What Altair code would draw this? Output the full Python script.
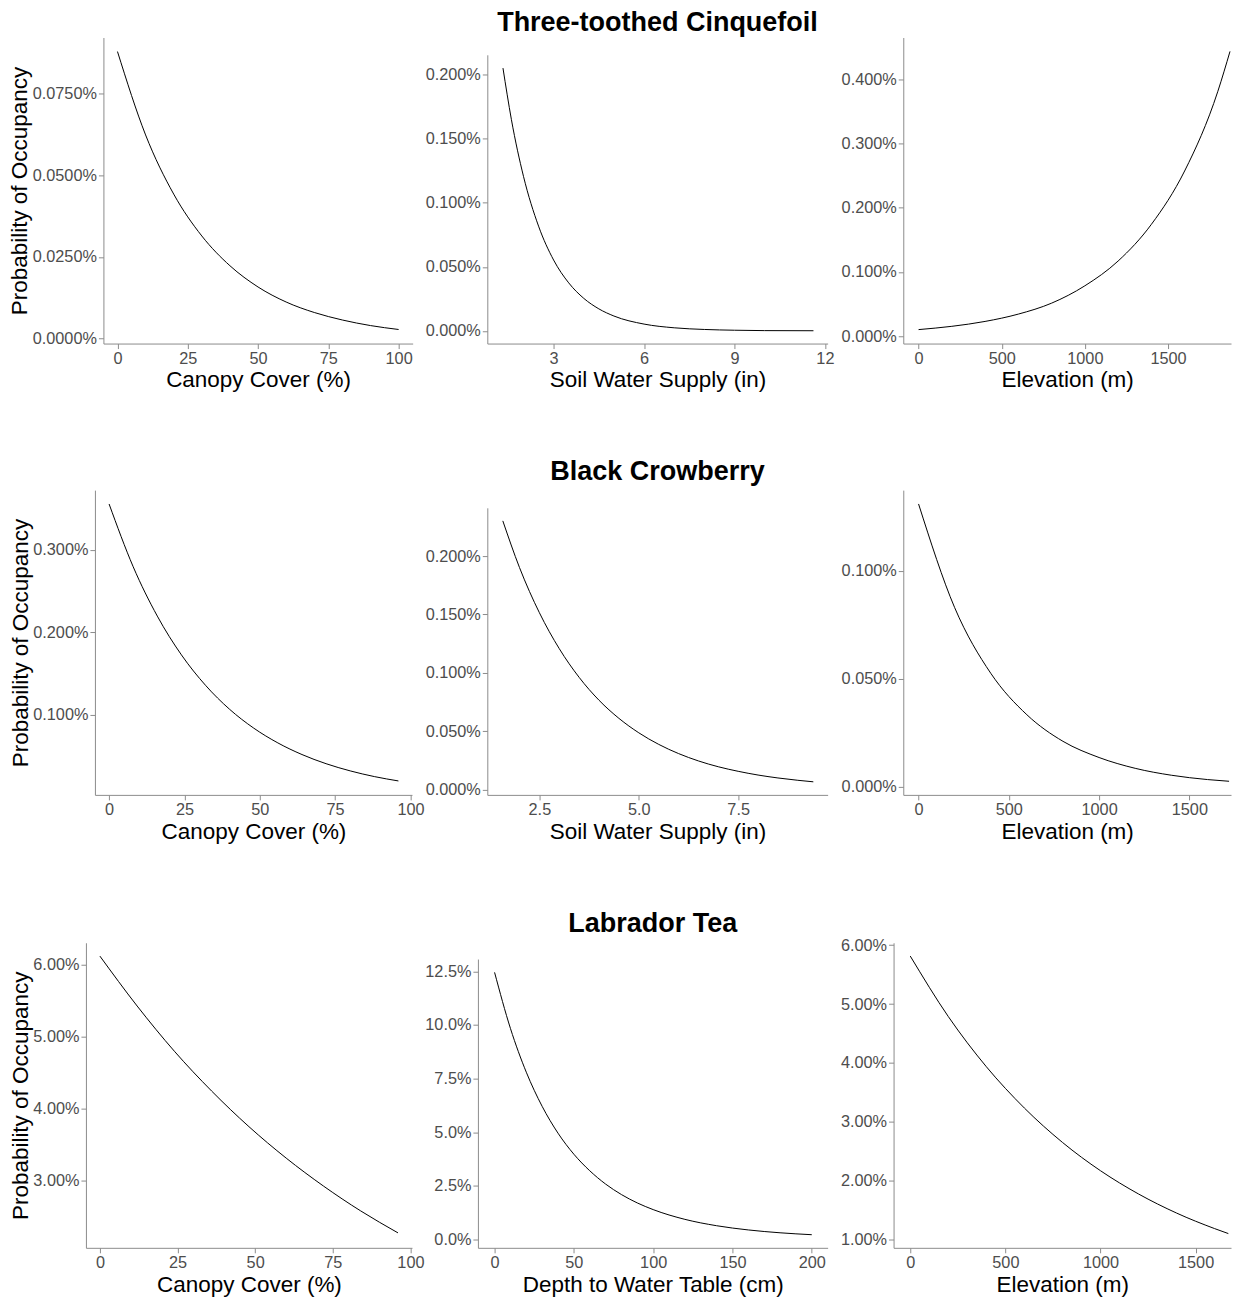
import altair as alt
import pandas as pd

FONT = "Liberation Sans"
AXIS_GREY = "#8c8c8c"

# ---------------- data (probability of occupancy, in percent) ----------------
row_titles = ["Three-toothed Cinquefoil", "Black Crowberry", "Labrador Tea"]
y_title = "Probability of Occupancy"

# Three-toothed Cinquefoil
cinq_canopy_x = [0, 10, 20, 30, 40, 50, 60, 70, 80, 90, 100]
cinq_canopy_y = [0.0878, 0.0623, 0.0442, 0.0314, 0.0223, 0.0158, 0.0112, 0.0080, 0.0057, 0.0040, 0.0028]
cinq_soil_x = [1.32, 1.6, 2.0, 2.5, 3.0, 3.5, 4.0, 4.5, 5.0, 6.0, 7.0, 8.0, 9.0, 10.0, 11.62]
cinq_soil_y = [0.2052, 0.1649, 0.1207, 0.0818, 0.0553, 0.0375, 0.0254, 0.0172, 0.0116, 0.0053,
               0.0024, 0.0011, 0.0005, 0.0002, 0.0001]
cinq_elev_x = [0, 200, 400, 600, 800, 1000, 1200, 1400, 1600, 1800, 1873]
cinq_elev_y = [0.0104, 0.0155, 0.0231, 0.0345, 0.0515, 0.0785, 0.1170, 0.1740, 0.2570, 0.3810, 0.4430]

# Black Crowberry
crow_canopy_x = [0, 8, 16, 24, 32, 40, 48, 56, 64, 72, 80, 88, 96]
crow_canopy_y = [0.3555, 0.2794, 0.2196, 0.1726, 0.1357, 0.1066, 0.0838, 0.0659, 0.0518, 0.0407,
                 0.0320, 0.0251, 0.0198]
crow_soil_x = [1.58, 2.0, 2.5, 3.0, 3.5, 4.0, 4.5, 5.0, 5.5, 6.0, 6.5, 7.0, 7.5, 8.0, 8.5, 9.0, 9.39]
crow_soil_y = [0.2302, 0.1902, 0.1515, 0.1207, 0.0961, 0.0765, 0.0610, 0.0486, 0.0387, 0.0308,
               0.0245, 0.0195, 0.0156, 0.0124, 0.0099, 0.0079, 0.0066]
crow_elev_x = [0, 200, 400, 600, 800, 1000, 1200, 1400, 1600, 1720]
crow_elev_y = [0.1310, 0.0830, 0.0526, 0.0334, 0.0211, 0.0136, 0.0086, 0.0054, 0.0034, 0.0026]

# Labrador Tea
lab_canopy_x = [0, 12, 24, 36, 48, 60, 72, 84, 96]
lab_canopy_y = [6.115, 5.423, 4.796, 4.244, 3.751, 3.315, 2.928, 2.583, 2.279]
lab_depth_x = [0, 10, 20, 30, 40, 50, 60, 70, 80, 90, 100, 120, 140, 160, 180, 200]
lab_depth_y = [12.45, 9.84, 7.80, 6.21, 4.96, 3.98, 3.21, 2.59, 2.10, 1.71, 1.40, 0.946,
               0.649, 0.452, 0.320, 0.23]
lab_elev_x = [0, 200, 400, 600, 800, 1000, 1200, 1400, 1600, 1672]
lab_elev_y = [5.814, 4.787, 3.935, 3.233, 2.650, 2.169, 1.774, 1.450, 1.186, 1.102]

# axis tick values
canopy_ticks = [0, 25, 50, 75, 100]
elev_ticks = [0, 500, 1000, 1500]

# ---------------- panel definitions ----------------
panels = [
    # row 1
    dict(x=cinq_canopy_x, y=cinq_canopy_y, xt="Canopy Cover (%)", yt=y_title,
         xdom=[-5, 105], ydom=[-0.0015, 0.0921], xticks=canopy_ticks, xfmt="d",
         yticks=[0, 0.025, 0.05, 0.075], yfmt=".4f"),
    dict(x=cinq_soil_x, y=cinq_soil_y, xt="Soil Water Supply (in)", yt=None,
         xdom=[0.80, 12.09], ydom=[-0.0099, 0.2156], xticks=[3, 6, 9, 12], xfmt="d",
         yticks=[0, 0.05, 0.1, 0.15, 0.2], yfmt=".3f", title=row_titles[0]),
    dict(x=cinq_elev_x, y=cinq_elev_y, xt="Elevation (m)", yt=None,
         xdom=[-92, 1879], ydom=[-0.0113, 0.4646], xticks=elev_ticks, xfmt="d",
         yticks=[0, 0.1, 0.2, 0.3, 0.4], yfmt=".3f"),
    # row 2
    dict(x=crow_canopy_x, y=crow_canopy_y, xt="Canopy Cover (%)", yt=y_title,
         xdom=[-4.7, 100.5], ydom=[0.0029, 0.3723], xticks=canopy_ticks, xfmt="d",
         yticks=[0.1, 0.2, 0.3], yfmt=".3f"),
    dict(x=crow_soil_x, y=crow_soil_y, xt="Soil Water Supply (in)", yt=None,
         xdom=[1.19, 9.75], ydom=[-0.0046, 0.2414], xticks=[2.5, 5.0, 7.5], xfmt=".1f",
         yticks=[0, 0.05, 0.1, 0.15, 0.2], yfmt=".3f", title=row_titles[1]),
    dict(x=crow_elev_x, y=crow_elev_y, xt="Elevation (m)", yt=None,
         xdom=[-84.7, 1730.7], ydom=[-0.0037, 0.1374], xticks=elev_ticks, xfmt="d",
         yticks=[0, 0.05, 0.1], yfmt=".3f"),
    # row 3
    dict(x=lab_canopy_x, y=lab_canopy_y, xt="Canopy Cover (%)", yt=y_title,
         xdom=[-4.5, 100.5], ydom=[2.072, 6.30], xticks=canopy_ticks, xfmt="d",
         yticks=[3, 4, 5, 6], yfmt=".2f"),
    dict(x=lab_depth_x, y=lab_depth_y, xt="Depth to Water Table (cm)", yt=None,
         xdom=[-10.5, 210], ydom=[-0.38, 13.07], xticks=[0, 50, 100, 150, 200], xfmt="d",
         yticks=[0, 2.5, 5, 7.5, 10, 12.5], yfmt=".1f", title=row_titles[2]),
    dict(x=lab_elev_x, y=lab_elev_y, xt="Elevation (m)", yt=None,
         xdom=[-87.7, 1686], ydom=[0.86, 6.04], xticks=elev_ticks, xfmt="d",
         yticks=[1, 2, 3, 4, 5, 6], yfmt=".2f"),
]

# ---------------- layout (cell sizes and plot ranges inside cells) ----------------
col_w = [327, 416, 403]
row_h = [453, 453, 306]
x_ranges = [
    [17.5, 327], [74.7, 415.3], [75, 403],
    [9, 326.3], [74.7, 415.3], [75, 403],
    [0, 326.3], [65.3, 415.3], [65.3, 403],
]
plot_bottom = [306.3, 305, 305.3]
plot_top = [[0, 17.3, 0], [0, 17.7, 0], [0, 16.3, 0]]
title_offset = [-20.5, -16.5, -16.5]


def make_panel(i, p):
    r, c = divmod(i, 3)
    cw, ch = col_w[c], row_h[r]
    xr = x_ranges[i]
    yr = [plot_bottom[r], plot_top[r][c]]
    df = pd.DataFrame({"x": p["x"], "y": p["y"]})
    yaxis_kw = dict(values=p["yticks"],
                    labelExpr="format(datum.value, '%s') + '%%'" % p["yfmt"],
                    offset=-xr[0])
    yaxis_kw["title"] = p["yt"] if p["yt"] else None
    ch_obj = alt.Chart(df).mark_line(color="black", strokeWidth=1, interpolate="monotone").encode(
        x=alt.X("x:Q",
                scale=alt.Scale(domain=p["xdom"], range=xr, nice=False, zero=False),
                axis=alt.Axis(values=p["xticks"], format=p["xfmt"], title=p["xt"],
                              offset=-(ch - yr[0]))),
        y=alt.Y("y:Q",
                scale=alt.Scale(domain=p["ydom"], range=yr, nice=False, zero=False),
                axis=alt.Axis(**yaxis_kw)),
    )
    props = dict(width=cw, height=ch)
    if p.get("title"):
        props["title"] = alt.TitleParams(
            text=p["title"], font=FONT, fontSize=27, fontWeight="bold", color="black",
            anchor="middle", frame="group", baseline="alphabetic",
            offset=title_offset[r], dx=(xr[0] + xr[1]) / 2 - cw / 2)
    return ch_obj.properties(**props)


charts = [make_panel(i, p) for i, p in enumerate(panels)]

chart = alt.concat(*charts, columns=3, spacing=0, bounds="flush").properties(
    padding={"left": 0, "top": 0, "right": 0, "bottom": 0}
).configure_view(
    stroke=None
).configure_axis(
    grid=False, domainColor=AXIS_GREY, tickColor=AXIS_GREY, domainWidth=1, tickWidth=1,
    tickSize=5, labelPadding=2, labelFont=FONT, labelFontSize=16.3, labelColor="#4d4d4d",
    titleFont=FONT, titleFontSize=22.5, titleFontWeight="normal", titleColor="black",
    labelFlush=False, labelOverlap=False
).configure_axisX(
    titlePadding=2
).configure_axisY(
    titlePadding=0.5
)

chart.save("out.html", embed_options={"renderer": "svg", "actions": False})
